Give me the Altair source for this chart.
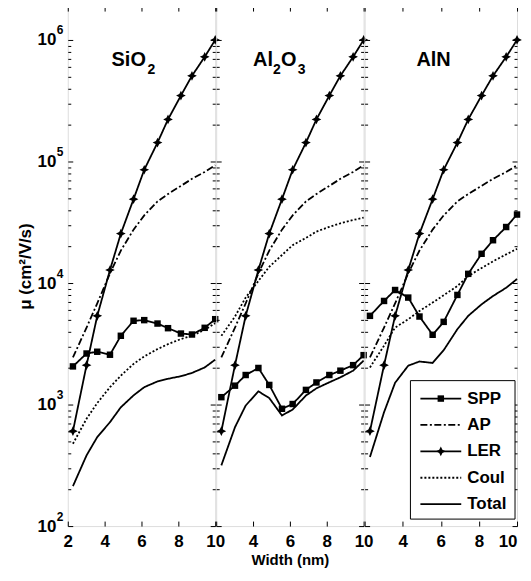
import altair as alt
import pandas as pd

FONT = "Liberation Sans"

# ---------------- data ----------------
widths = [2.28, 3.02, 3.60, 4.29, 4.88, 5.57, 6.15, 6.87, 7.44, 8.14, 8.74, 9.43, 10.0]
series_names = ["SPP", "AP", "LER", "Coul", "Total"]
panel_names = ["SiO2", "Al2O3", "AlN"]

ap = [2440, 4300, 6800, 12000, 18500, 27500, 36000, 47000, 54000, 63000, 72000, 82000, 93000]
ler = [604, 2110, 5370, 12800, 25500, 49000, 85500, 143000, 222000, 349000, 507000, 726000, 1000000]

spp_sio2 = [2060, 2630, 2720, 2570, 3680, 4890, 4950, 4640, 4250, 3840, 3770, 4280, 5040]
coul_sio2 = [476, 764, 1030, 1390, 1730, 2160, 2490, 2860, 3140, 3460, 3680, 4120, 4670]
total_sio2 = [213, 382, 540, 716, 950, 1190, 1390, 1550, 1630, 1710, 1820, 2020, 2340]

spp_al2o3 = [1150, 1430, 1750, 2000, 1450, 923, 1010, 1320, 1520, 1750, 1900, 2110, 2550]
coul_al2o3 = [3680, 5300, 7600, 10400, 13600, 17000, 20500, 23500, 26500, 29000, 31000, 33000, 34500]
total_al2o3 = [316, 651, 981, 1285, 1130, 813, 910, 1186, 1360, 1525, 1675, 1900, 2300]

spp_aln = [5370, 7120, 8760, 7590, 5300, 3750, 4790, 7980, 11900, 17400, 22500, 28900, 36600]
coul_aln = [2020, 3050, 4300, 5030, 5890, 6900, 7930, 9450, 11400, 13300, 15100, 17200, 19100]
total_aln = [370, 865, 1510, 2090, 2260, 2200, 2800, 4170, 5370, 6680, 7820, 9140, 10800]

x_ticks_first = [2, 4, 6, 8, 10]
x_ticks_other = [4, 6, 8, 10]
y_major = [1e2, 1e3, 1e4, 1e5, 1e6]
y_minor = [k * 10 ** e for e in range(2, 6) for k in range(2, 10)]

panel_series = {
    "SiO2": {"SPP": spp_sio2, "AP": ap, "LER": ler, "Coul": coul_sio2, "Total": total_sio2},
    "Al2O3": {"SPP": spp_al2o3, "AP": ap, "LER": ler, "Coul": coul_al2o3, "Total": total_al2o3},
    "AlN": {"SPP": spp_aln, "AP": ap, "LER": ler, "Coul": coul_aln, "Total": total_aln},
}

# panel label pieces: (text, subscript?)
label_pieces = {
    "SiO2": [("SiO", False), ("2", True)],
    "Al2O3": [("Al", False), ("2", True), ("O", False), ("3", True)],
    "AlN": [("AlN", False)],
}

rows = []
for p in panel_names:
    for s in series_names:
        for w, v in zip(widths, panel_series[p][s]):
            rows.append({"panel": p, "series": s, "w": w, "mu": v})
df = pd.DataFrame(rows)
legend_df = pd.DataFrame({"series": series_names})

# ---------------- styling ----------------
PANEL_W = [148, 148, 153]
PANEL_H = 522
label_x = {"SiO2": [44, 80], "Al2O3": [37, 57, 65, 82], "AlN": [52]}
MAIN_BASE = 60
SUB_BASE = 68

xscale = alt.Scale(domain=[2, 10], nice=False, zero=False)
yscale = alt.Scale(type="log", domain=[100, 1.9e6], nice=False)
dash_scale = alt.Scale(domain=series_names,
                       range=[[1, 0], [7, 2.5, 2, 2.5], [1, 0], [2, 2], [1, 0]])
legend_rows = alt.Scale(type="point", domain=series_names, range=[394, 500], padding=0)

star = "M0,-1L0.33,-0.33L1,0L0.33,0.33L0,1L-0.33,0.33L-1,0L-0.33,-0.33Z"


def tick_axis(orient, values, size):
    return alt.Axis(orient=orient, values=values, labels=False, domain=False, grid=False,
                    ticks=True, tickSize={"expr": str(-size)}, tickColor="black",
                    tickWidth=1, title=None, minExtent=0, maxExtent=0)


def legend_layers():
    ly = alt.Y("series:N", scale=legend_rows, axis=None)
    lb = alt.Chart(legend_df)
    box = alt.Chart(pd.DataFrame({"k": [0]})).mark_rect(
        fill="white", stroke="black", strokeWidth=1).encode(
        x=alt.value(46), x2=alt.value(151), y=alt.value(376), y2=alt.value(515))
    seg = lb.mark_rule(color="black", strokeWidth=1.8).encode(
        x=alt.value(56), x2=alt.value(97), y=ly,
        strokeDash=alt.StrokeDash("series:N", scale=dash_scale, legend=None))
    sq = lb.transform_filter(alt.datum.series == "SPP").mark_point(
        shape="square", filled=True, color="black", size=42, opacity=1).encode(
        x=alt.value(76.5), y=ly)
    st = lb.transform_filter(alt.datum.series == "LER").mark_point(
        shape=star, filled=True, color="black", size=95, opacity=1).encode(
        x=alt.value(76.5), y=ly)
    txt = lb.mark_text(font=FONT, fontSize=17, fontWeight="bold", color="black",
                       align="left", baseline="middle").encode(
        x=alt.value(103), y=ly, text="series:N")
    return [box, seg, sq, st, txt]


def panel(idx, name):
    d = df[df.panel == name]
    base = alt.Chart(d)
    xvals = x_ticks_first if idx == 0 else x_ticks_other
    x_label_axis = alt.Axis(orient="bottom", values=xvals, ticks=False, domain=False,
                            grid=False, labelFont=FONT, labelFontSize=17,
                            labelFontWeight="bold", labelColor="black", labelPadding=8,
                            labelFlush=(idx == 2), labelOverlap=False,
                            title="Width (nm)" if idx == 1 else None,
                            titleFont=FONT, titleFontSize=15, titleFontWeight="bold",
                            titleColor="black", titlePadding=3)
    lines = base.mark_line(color="black", strokeWidth=1.8).encode(
        x=alt.X("w:Q", scale=xscale, axis=x_label_axis),
        y=alt.Y("mu:Q", scale=yscale, axis=tick_axis("left", y_major, 5)),
        strokeDash=alt.StrokeDash("series:N", scale=dash_scale, legend=None),
        detail="series:N",
    )
    spp_pts = base.transform_filter(alt.datum.series == "SPP").mark_point(
        shape="square", filled=True, color="black", size=42, opacity=1).encode(
        x=alt.X("w:Q", scale=xscale, axis=tick_axis("bottom", x_ticks_first, 5)),
        y=alt.Y("mu:Q", scale=yscale, axis=tick_axis("left", y_minor, 3)),
    )
    ler_pts = base.transform_filter(alt.datum.series == "LER").mark_point(
        shape=star, filled=True, color="black", size=95, opacity=1).encode(
        x=alt.X("w:Q", scale=xscale, axis=tick_axis("top", x_ticks_first, 5)),
        y=alt.Y("mu:Q", scale=yscale, axis=tick_axis("right", y_major, 5)),
    )
    carrier = base.mark_point(opacity=0, size=1).encode(
        x=alt.X("w:Q", scale=xscale, axis=None),
        y=alt.Y("mu:Q", scale=yscale, axis=tick_axis("right", y_minor, 3)),
    )
    layers = [lines, spp_pts, ler_pts, carrier]

    if idx == 0:
        ten_axis = alt.Axis(orient="left", values=y_major, ticks=False, domain=False, grid=False,
                            labelExpr="'10'", labelFont=FONT, labelFontSize=17,
                            labelFontWeight="bold", labelColor="black", labelPadding=12,
                            labelBaseline="middle", labelFlush=False,
                            title="\u03bc (cm\u00b2/V/s)", titleFont=FONT, titleFontSize=17,
                            titleFontWeight="bold", titleColor="black", titlePadding=3)
        exp_axis = alt.Axis(orient="left", values=y_major, ticks=False, domain=False, grid=False,
                            labelExpr="'' + round(log(datum.value) / LN10)", labelFont=FONT,
                            labelFontSize=12, labelFontWeight="bold", labelColor="black",
                            labelPadding=5, labelBaseline="middle", labelOffset=-10,
                            labelFlush=False, title=None, minExtent=0)
        layers.append(base.mark_point(opacity=0, size=1).encode(
            x=alt.X("w:Q", scale=xscale, axis=None),
            y=alt.Y("mu:Q", scale=yscale, axis=ten_axis)))
        layers.append(base.mark_point(opacity=0, size=1).encode(
            x=alt.X("w:Q", scale=xscale, axis=None),
            y=alt.Y("mu:Q", scale=yscale, axis=exp_axis)))

    # panel label (material) as real text
    for (txt, sub), xp in zip(label_pieces[name], label_x[name]):
        layers.append(
            alt.Chart(pd.DataFrame({"t": [txt]})).mark_text(
                font=FONT, fontWeight="bold", fontSize=14 if sub else 20, color="black",
                align="left", baseline="alphabetic").encode(
                text="t:N", x=alt.value(xp), y=alt.value(SUB_BASE if sub else MAIN_BASE))
        )

    lay = alt.layer(*layers)
    if idx == 2:
        lay = alt.layer(*(layers + legend_layers())).resolve_scale(y="independent")
    return lay.resolve_axis(x="independent", y="independent").properties(
        width=PANEL_W[idx], height=PANEL_H)


chart = alt.hconcat(*[panel(i, n) for i, n in enumerate(panel_names)], spacing=1,
                    bounds="flush").resolve_scale(strokeDash="independent").properties(
    padding={"left": 7, "top": -4, "right": 0, "bottom": -2}
).configure_view(stroke="black", strokeWidth=1.3).configure(background="white")

chart.save("out.html", embed_options={"renderer": "svg", "actions": False})
